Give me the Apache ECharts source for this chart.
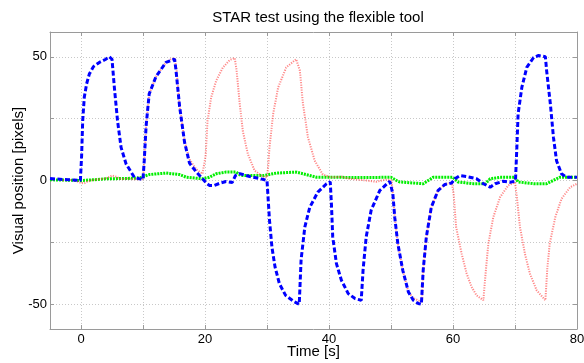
<!DOCTYPE html>
<html>
<head>
<meta charset="utf-8">
<script src="https://cdn.jsdelivr.net/npm/echarts@6/dist/echarts.min.js"></script>
<style>html,body{margin:0;padding:0;background:#fff}#c{width:584px;height:363px}</style>
</head>
<body>
<div id="c"></div>
<script>
const titleText = 'STAR test using the flexible tool';
const xName = 'Time [s]';
const yName = 'Visual position [pixels]';
const xTicks = [0, 10, 20, 30, 40, 50, 60, 70, 80];
const xLabels = [0, 20, 40, 60, 80];
const yTicks = [-50, -25, 0, 25, 50];
const yLabels = [-50, 0, 50];

const blueData = [[-5,0.8],[-4,0.6],[-2,0.3],[-0.1,0],[0.1,10],[0.27,24],[0.53,33.6],[0.9,39],[1.34,43],[2.0,46],[2.96,47.7],[4.0,49],[4.57,50],[5.0,49],[5.38,37.6],[5.9,24],[6.46,13.4],[7.27,6.7],[8.6,1.3],[9.4,0.7],[10.0,0.5],[10.2,8],[10.5,22],[11.0,35],[12.1,42],[13.7,47.7],[15.1,49],[15.3,45],[15.9,30],[16.7,15.5],[17.5,7],[18.6,3.4],[19.6,0.7],[20.2,-1],[20.7,-2],[21.5,-2],[22.5,-1],[23.4,-0.4],[24.4,-0.8],[24.9,2],[25.6,2.8],[27.2,1.6],[29.3,0.5],[30.0,0],[30.2,-8],[30.4,-16],[30.8,-27],[31.3,-35],[32.0,-41.7],[33.0,-46.4],[34.4,-49],[35.2,-50],[35.5,-32],[36.1,-18.8],[36.9,-10.8],[38.2,-4.7],[39.6,-1.3],[40.2,-0.5],[40.4,-10],[40.6,-22.8],[41.2,-33.6],[42.0,-40.3],[43.1,-45.7],[44.2,-47.7],[45.2,-48.4],[45.5,-36],[46.0,-22.8],[46.8,-12],[48.2,-4],[49.8,-0.3],[50.1,0],[50.3,-5.4],[50.6,-14.8],[51.1,-25.5],[51.9,-36.3],[52.8,-45],[53.6,-48.4],[54.4,-49.7],[54.9,-50],[55.2,-36],[55.7,-22.8],[56.5,-10.8],[57.6,-4],[58.7,-1.6],[59.8,-1],[60.3,0.7],[61.1,2],[62.2,1.6],[63.8,0.7],[64.9,-1.3],[66.0,-2.7],[66.8,-1.3],[68.1,-0.3],[69.2,-0.7],[70.0,-0.3],[70.1,1.3],[70.3,13.4],[70.5,26.9],[71.1,37.6],[71.9,45.7],[73.0,49.7],[73.8,50.5],[74.9,50],[75.1,44.4],[75.7,31],[76.2,17.5],[76.7,8],[77.5,2.7],[78.3,1.3],[80,1.3]];

const redData = [[-3,0],[-2,0.3],[-1,0],[0,-1],[0.5,-1.2],[1,-0.5],[2,0.3],[3,0.5],[4,0.8],[5,2],[5.7,1.5],[6.5,0.5],[7.5,0.8],[8.5,0.5],[9.5,0.5],[10,0.5],[10.2,8],[10.5,22],[11,35],[12.1,42],[13.7,47.7],[14.5,49],[15.1,49.5],[15.4,45],[15.9,30],[16.7,16],[17.5,8.5],[18.6,4.5],[19.6,2.7],[19.9,2.5],[20.1,10],[20.4,24],[21,33.6],[21.8,40.3],[22.9,45.7],[24,48.7],[24.8,49.5],[25.1,44.4],[25.6,31],[26.1,20],[26.9,10.8],[28,4],[29.3,1.6],[30,1.3],[30.2,6],[30.4,13.4],[31,27],[31.8,37.6],[33.1,45.7],[34.7,49],[35.3,44.4],[35.8,31],[36.6,17.5],[37.7,8],[39,2.4],[40.3,1.3],[42,1.5],[43.3,0.7],[46,0],[47.6,-0.5],[49.2,0.3],[50.1,0],[50.3,-5.4],[50.6,-14.8],[51.1,-25.5],[51.9,-36.3],[52.8,-45],[53.6,-47.5],[54.4,-48.5],[55,-49],[55.2,-36],[55.7,-22.8],[56.5,-10.8],[57.6,-4],[58.7,-1.6],[59.8,-0.8],[60.1,-5.4],[60.5,-18.8],[61.4,-29.6],[62.2,-37.6],[63,-43],[63.8,-46.4],[64.9,-48.4],[65.3,-36.3],[65.7,-25.5],[66.5,-14.8],[67.6,-6.7],[68.9,-2],[70,-0.7],[70.3,-6.7],[70.8,-18.8],[71.6,-29.6],[72.4,-37.6],[73.5,-44.4],[74.9,-48.4],[75.2,-36],[75.6,-25.5],[76.5,-14.8],[77.5,-7.4],[78.9,-2.7],[80,-1.3]];

const greenData = [[-5,0.3],[0,0],[2,0.3],[4,0.7],[7,0.8],[9.4,1],[11,2.4],[13.7,3],[15.9,2.4],[17,1.3],[19.6,0.7],[20.7,1.3],[21.8,2.7],[23.4,3.4],[25,3.4],[25.8,2],[27.2,2],[29.5,2],[31.5,3],[34.7,3.4],[36.3,2.4],[38,1.3],[40.5,1.3],[45,1.2],[50,1.3],[50.9,0],[51.4,-0.6],[55.2,-1.3],[56.8,1.3],[60,1.3],[60.8,-0.6],[63.3,-1.3],[65.2,-1.3],[66,0.7],[67.6,1.3],[70,1.3],[70.5,-0.6],[73,-1.3],[75.1,-1.3],[77.2,1.3],[80,1.3]];

const FONT = '"Liberation Sans", Arial, Helvetica, sans-serif';
const axisColor = '#9a9a9a';
const gridLine = { show: true, lineStyle: { color: '#c8c8c8', type: [1, 2], width: 1 } };

const chart = echarts.init(document.getElementById('c'), null, { renderer: 'canvas' });
chart.setOption({
  animation: false,
  backgroundColor: '#ffffff',
  title: {
    text: titleText, left: 313, top: 5, textAlign: 'center',
    textStyle: { fontFamily: FONT, fontSize: 15, fontWeight: 'normal', color: '#000' }
  },
  grid: { left: 50, right: 7, top: 32, bottom: 34, containLabel: false, outerBoundsMode: 'none' },
  xAxis: [{
    type: 'value', min: -5, max: 80, position: 'bottom',
    name: xName, nameLocation: 'middle', nameGap: 15, nameMoveOverlap: false,
    nameTextStyle: { fontFamily: FONT, fontSize: 15, color: '#000', verticalAlign: 'top' },
    axisLine: { show: true, onZero: false, lineStyle: { color: axisColor, width: 1 } },
    axisTick: { show: true, inside: true, length: 4, customValues: xTicks, lineStyle: { color: axisColor } },
    axisLabel: { customValues: xLabels, fontFamily: FONT, fontSize: 13, color: '#000', margin: 4 },
    splitLine: gridLine
  }, {
    type: 'value', min: -5, max: 80, position: 'top',
    axisLine: { show: true, onZero: false, lineStyle: { color: axisColor, width: 1 } },
    axisTick: { show: true, inside: true, length: 4, customValues: xTicks, lineStyle: { color: axisColor } },
    axisLabel: { show: false },
    splitLine: { show: false }
  }],
  yAxis: [{
    type: 'value', min: -60, max: 60, position: 'left',
    name: yName, nameLocation: 'middle', nameGap: 24, nameMoveOverlap: false,
    nameTextStyle: { fontFamily: FONT, fontSize: 15, color: '#000' },
    axisLine: { show: true, onZero: false, lineStyle: { color: axisColor, width: 1 } },
    axisTick: { show: true, inside: true, length: 4, customValues: yTicks, lineStyle: { color: axisColor } },
    axisLabel: { customValues: yLabels, fontFamily: FONT, fontSize: 13, color: '#000', margin: 3 },
    splitLine: gridLine
  }, {
    type: 'value', min: -60, max: 60, position: 'right',
    axisLine: { show: true, onZero: false, lineStyle: { color: axisColor, width: 1 } },
    axisTick: { show: true, inside: true, length: 4, customValues: yTicks, lineStyle: { color: axisColor } },
    axisLabel: { show: false },
    splitLine: { show: false }
  }],
  series: [{
    name: 'green', type: 'line', data: greenData, showSymbol: false, z: 2,
    lineStyle: { color: '#00ee00', width: 3, type: [2, 1] }
  }, {
    name: 'red', type: 'line', data: redData, showSymbol: false, z: 3,
    lineStyle: { color: '#ff3a3a', width: 2, type: [1.2, 1.3], opacity: 0.6 }
  }, {
    name: 'blue', type: 'line', data: blueData, showSymbol: false, z: 4,
    lineStyle: { color: '#0000ff', width: 3, type: [5, 2.5] }
  }]
});
</script>
</body>
</html>
